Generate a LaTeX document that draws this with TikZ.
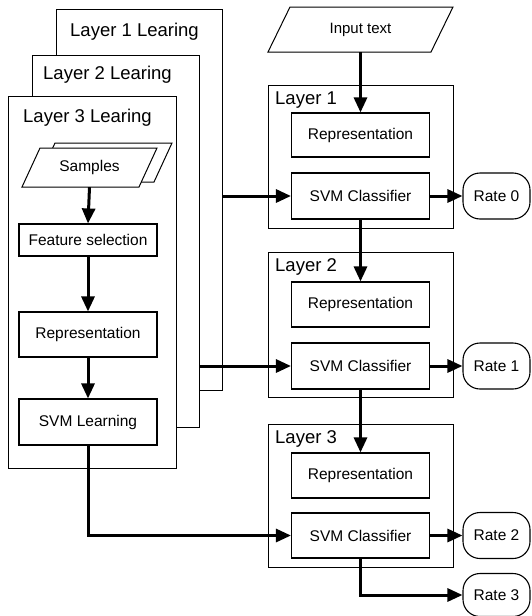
\documentclass[tikz,border=0pt]{standalone}
\usepackage{fontspec}
\setmainfont{Liberation Sans}
\usetikzlibrary{arrows.meta,calc}
\begin{document}
\begin{tikzpicture}[x=1pt,y=-1pt,
  frame/.style={draw, line width=1pt, fill=white, inner sep=0pt, anchor=north west},
  stepbox/.style={draw, line width=1.1pt, fill=white, inner sep=0pt, minimum width=138pt, minimum height=45pt, font=\fontsize{15.5}{18}\selectfont},
  ratebox/.style={draw, line width=1.1pt, rounded corners=17pt, inner sep=0pt, minimum width=67pt, minimum height=46pt, font=\fontsize{15.5}{18}\selectfont},
  ttl/.style={inner sep=0pt, anchor=west, font=\fontsize{18.5}{22}\selectfont},
  conn/.style={line width=3pt, -{Triangle[length=15pt,width=13pt]}},
  link/.style={line width=3pt}
]
\useasboundingbox (0,0) rectangle (531,616);

% ---- left: stacked learning layers ----
\node[frame, minimum width=166pt, minimum height=381pt] (L1) at (56,9) {};
\node[ttl] (L1t) at ($(L1.north west)+(14,23)$) {Layer 1 Learing};
\node[frame, minimum width=167pt, minimum height=372pt] (L2) at (32,55) {};
\node[ttl] (L2t) at ($(L2.north west)+(11,20)$) {Layer 2 Learing};
\node[frame, minimum width=168pt, minimum height=372pt] (L3) at (8,96) {};
\node[ttl] (L3t) at ($(L3.north west)+(15,22)$) {Layer 3 Learing};

% samples (double parallelogram)
\filldraw[fill=white, line width=1pt] (37,182) -- (154,182) -- (172,143) -- (55,143) -- cycle;
\filldraw[fill=white, line width=1pt] (22,187) -- (139,187) -- (157,148) -- (40,148) -- cycle;
\node[inner sep=0pt, minimum width=117pt, minimum height=39pt, font=\fontsize{15.5}{18}\selectfont] (samples) at (89.5,167.5) {Samples};

\node[stepbox, minimum height=32pt] (feat) at (88,240) {Feature selection};
\node[stepbox] (lrep) at (88,334.5) {Representation};
\node[stepbox, minimum height=46pt] (lsvm) at (88,422) {SVM Learning};

\draw[conn] (samples.south) -- (feat.north);
\draw[conn] (feat.south) -- (lrep.north);
\draw[conn] (lrep.south) -- (lsvm.north);

% ---- right: classification cascade ----
\filldraw[fill=white, line width=1pt] (268,52) -- (431,52) -- (453,7) -- (290,7) -- cycle;
\node[inner sep=0pt, minimum width=150pt, minimum height=45pt, font=\fontsize{15}{18}\selectfont] (input) at (360.5,29.5) {Input text};

\node[frame, minimum width=185pt, minimum height=143pt] (R1) at (268,85) {};
\node[ttl] (R1t) at ($(R1.north west)+(7,15)$) {Layer 1};
\node[frame, minimum width=185pt, minimum height=145pt] (R2) at (268,252) {};
\node[ttl] (R2t) at ($(R2.north west)+(7,15)$) {Layer 2};
\node[frame, minimum width=185pt, minimum height=143pt] (R3) at (268,424) {};
\node[ttl] (R3t) at ($(R3.north west)+(7,15)$) {Layer 3};

\node[stepbox, minimum height=44pt] (rep1) at (360.5,135) {Representation};
\node[stepbox, minimum height=46pt] (svm1) at (360.5,196) {SVM Classifier};
\node[stepbox] (rep2) at (360.5,304.5) {Representation};
\node[stepbox, minimum height=46pt] (svm2) at (360.5,366) {SVM Classifier};
\node[stepbox] (rep3) at (360.5,475.5) {Representation};
\node[stepbox] (svm3) at (360.5,535.5) {SVM Classifier};

\node[ratebox] (rate0) at (496.5,196) {Rate 0};
\node[ratebox] (rate1) at (496.5,366) {Rate 1};
\node[ratebox] (rate2) at (496.5,535.5) {Rate 2};
\node[ratebox, minimum height=43pt] (rate3) at (496.5,595) {Rate 3};

\draw[conn] (input.south) -- (rep1.north);
\draw[conn] (svm1.south) -- (rep2.north);
\draw[conn] (svm2.south) -- (rep3.north);

\draw[conn] (svm1.east) -- (rate0.west);
\draw[conn] (svm2.east) -- (rate1.west);
\draw[conn] (svm3.east) -- (rate2.west);
\draw[conn] (svm3.south) |- (rate3.west);

% learning layers feed classifiers
\draw[conn] (L1.east |- svm1.west) -- (svm1.west);
\draw[conn] (L2.east |- svm2.west) -- (svm2.west);
\draw[conn] (lsvm.south) |- (svm3.west);
\end{tikzpicture}
\end{document}
